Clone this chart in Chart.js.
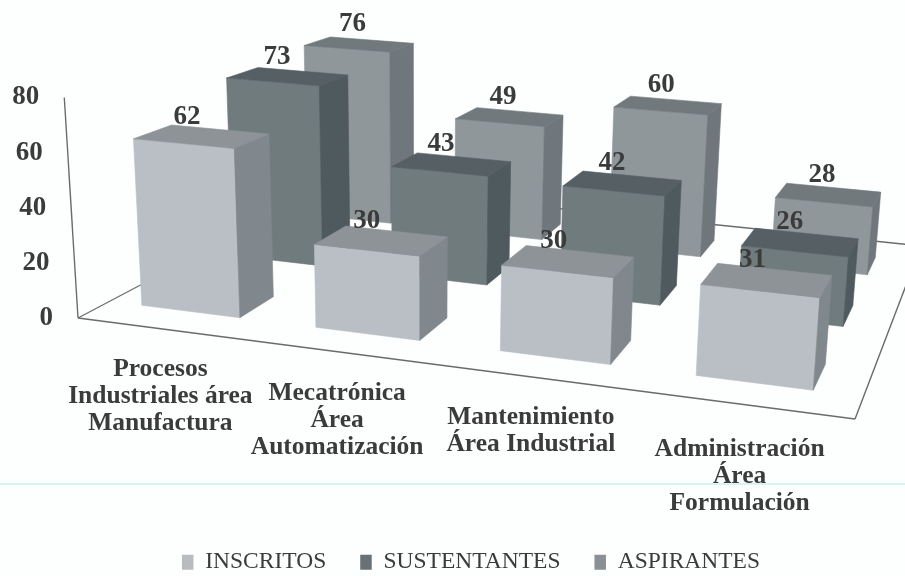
<!DOCTYPE html>
<html><head><meta charset="utf-8">
<style>html,body{margin:0;padding:0;background:#fdfefe}canvas{display:block}</style>
<script src="https://cdn.jsdelivr.net/npm/chart.js@4/dist/chart.umd.min.js"></script>
</head><body><canvas id="c" width="905" height="576"></canvas>
<script>
const categories = [
  ["Procesos","Industriales área","Manufactura"],
  ["Mecatrónica","Área","Automatización"],
  ["Mantenimiento","Área Industrial"],
  ["Administración","Área","Formulación"]
];
const inscritos = [62,30,30,31];
const sustentantes = [73,43,42,26];
const aspirantes = [76,49,60,28];
const yTicks = [0,20,40,60,80];

/* view geometry of the tilted floor */
const FLOOR = {a:678.1,b:360.1,c:78,d:52.5,e:-72.4,f:318,g:-0.1157,h:0.3276};
const VP = {x:420,dist:5500};
const ROW = {first:0.098,step:0.328,depth:0.125,uShift:-0.006};
const TONES = [
  {front:'#b9bfc4',top:'#8d9397',side:'#80888d',legend:'#b9bcbf'},
  {front:'#707b7e',top:'#566064',side:'#4f5a5e',legend:'#6a7174'},
  {front:'#8f979a',top:'#71797d',side:'#6f777c',legend:'#8a9093'}
];
const LABEL_NUDGE = [[-21,39],[-51,63],[-64,87],[-62,119]];
const INK = '#3b3b3b';

function floorPt(u,v){
  const w=1+FLOOR.g*u+FLOOR.h*v;
  return {x:(FLOOR.a*u+FLOOR.b*v+FLOOR.c)/w,y:(FLOOR.d*u+FLOOR.e*v+FLOOR.f)/w,w};
}
function lift(u,v,px){
  const p=floorPt(u,v);
  const h=px/p.w;
  return {x:p.x+(p.x-VP.x)/VP.dist*h,y:p.y-h};
}
function poly(ctx,pts,fill){
  ctx.beginPath();
  pts.forEach((p,i)=>i?ctx.lineTo(p.x,p.y):ctx.moveTo(p.x,p.y));
  ctx.closePath();ctx.fillStyle=fill;ctx.fill();
  ctx.strokeStyle=fill;ctx.lineWidth=0.6;ctx.stroke();
}
function line(ctx,a,b,col,w){
  ctx.beginPath();ctx.moveTo(a.x,a.y);ctx.lineTo(b.x,b.y);
  ctx.strokeStyle=col;ctx.lineWidth=w;ctx.stroke();
}

const box3d = {
  id:'box3d',
  afterLayout(chart){ chart.legend.left += 37; },
  beforeDraw(chart){
    const {ctx,width,scales:{x,y}}=chart;
    ctx.save();
    ctx.fillStyle='#fdfefe';ctx.fillRect(0,0,width,chart.height);
    ctx.fillStyle='#d9f4f6';ctx.fillRect(0,483,width,2);
    ctx.restore();
    const y0=y.getPixelForValue(0);
    y.getLabelItems().forEach((it,i)=>{
      const px=y0-y.getPixelForValue(y.ticks[i].value);
      const p=lift(0,0,px);
      it.options.translation=[p.x-25,p.y];
      it.options.textAlign='right';
    });
    x.getLabelItems().forEach((it,i)=>{
      it.options.translation=[x.getPixelForTick(i)+LABEL_NUDGE[i][0],y0+LABEL_NUDGE[i][1]];
      it.options.textAlign='center';
      it.options.textBaseline='top';
      it.textOffset=0;
    });
  },
  beforeDatasetsDraw(chart){
    const {ctx,scales:{x,y}}=chart;
    const y0=y.getPixelForValue(0);
    ctx.save();
    const A=floorPt(0,0),B=floorPt(1,0),C=floorPt(1,1),D=floorPt(0,1);
    const axisCol='#6b6b6b';
    line(ctx,D,C,axisCol,1.4);line(ctx,A,B,axisCol,1.6);line(ctx,B,C,axisCol,1.4);line(ctx,A,D,axisCol,1.2);
    line(ctx,A,lift(0,0,y0-y.getPixelForValue(y.max)),axisCol,1.4);
    const labels=[];
    for(let s=chart.data.datasets.length-1;s>=0;s--){
      const meta=chart.getDatasetMeta(s);
      meta.data.forEach((el,i)=>{
        const val=chart.data.datasets[s].data[i];
        const px=y0-y.getPixelForValue(val);
        const ul=(el.x-el.width/2-x.left)/x.width+ROW.uShift;
        const ur=(el.x+el.width/2-x.left)/x.width+ROW.uShift;
        const v0=ROW.first+s*ROW.step,v1=v0+ROW.depth;
        const t=TONES[s];
        const fl=lift(ul,v0,0),fr=lift(ur,v0,0),br=lift(ur,v1,0);
        const tfl=lift(ul,v0,px),tfr=lift(ur,v0,px),tbr=lift(ur,v1,px),tbl=lift(ul,v1,px);
        poly(ctx,[fl,fr,tfr,tfl],t.front);
        poly(ctx,[fr,br,tbr,tfr],t.side);
        poly(ctx,[tfl,tfr,tbr,tbl],t.top);
        labels.push({val,x:(tfl.x+tfr.x+tbr.x+tbl.x)/4-15+s*4,y:(tfl.y+tfr.y+tbr.y+tbl.y)/4-20});
      });
    }
    ctx.font='bold 27px "Liberation Serif"';
    ctx.fillStyle=INK;ctx.textAlign='center';ctx.textBaseline='middle';
    labels.forEach(l=>ctx.fillText(String(l.val),l.x,l.y));
    ctx.restore();
  },
  beforeDatasetDraw(){ return false; }
};

new Chart(document.getElementById('c'),{
  type:'bar',
  data:{labels:categories,datasets:[
    {label:'INSCRITOS',data:inscritos,backgroundColor:TONES[0].legend},
    {label:'SUSTENTANTES',data:sustentantes,backgroundColor:TONES[1].legend},
    {label:'ASPIRANTES',data:aspirantes,backgroundColor:TONES[2].legend}
  ]},
  options:{
    responsive:false,animation:false,
    grouped:false,
    barPercentage:0.57,categoryPercentage:1,
    layout:{padding:{top:97,bottom:-8,left:0,right:0}},
    plugins:{
      tooltip:{enabled:false},
      legend:{position:'bottom',labels:{
        boxWidth:11.5,boxHeight:15,padding:34,color:INK,
        font:{family:'"Liberation Serif"',size:23.5}
      }}
    },
    scales:{
      x:{grid:{display:false},border:{display:false},
        afterFit(s){s.height=199;},
        ticks:{autoSkip:false,maxRotation:0,color:INK,
          font:{family:'"Liberation Serif"',size:25.5,weight:'bold',lineHeight:1.07}}},
      y:{min:0,max:80,grid:{display:false},border:{display:false},
        afterFit(s){s.width=78;},
        afterBuildTicks(s){s.ticks=yTicks.map(value=>({value}));},
        ticks:{color:INK,font:{family:'"Liberation Serif"',size:27,weight:'bold'}}}
    }
  },
  plugins:[box3d]
});
</script></body></html>
